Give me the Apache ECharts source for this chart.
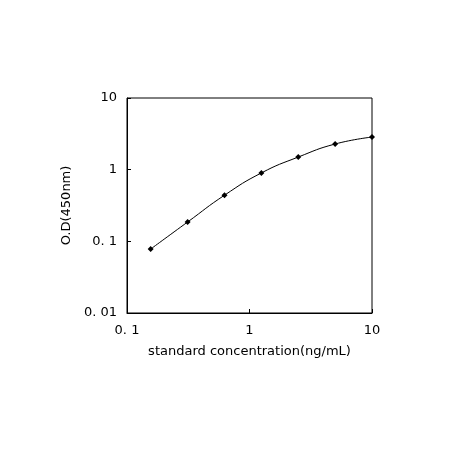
<!DOCTYPE html>
<html><head><meta charset="utf-8">
<script src="https://cdn.jsdelivr.net/npm/echarts@6/dist/echarts.min.js"></script>
<style>html,body{margin:0;padding:0;background:#fff}#c{width:450px;height:450px}</style>
</head><body><div id="c"></div>
<script>
const concentrations = [0.156, 0.3125, 0.625, 1.25, 2.5, 5, 10];
const odValues = [0.078, 0.186, 0.44, 0.90, 1.5, 2.28, 2.85];
const xTickLabels = {0.1:'0. 1', 1:'1', 10:'10'};
const yTickLabels = {0.01:'0. 01', 0.1:'0. 1', 1:'1', 10:'10'};
const xName = 'standard concentration(ng/mL)';
const yName = 'O.D(450nm)';

const chart = echarts.init(document.getElementById('c'));
const font = {fontFamily:'DejaVu Sans', fontSize:13, color:'#000'};
chart.setOption({
  animation:false,
  grid:{left:127, top:98, width:245, height:215, show:true, borderColor:'#000', borderWidth:1},
  xAxis:{type:'log', min:0.1, max:10, logBase:10, name:xName, nameLocation:'middle', nameGap:32,
    nameTextStyle:font, axisLine:{lineStyle:{color:'#000'}}, axisTick:{inside:true,length:4,lineStyle:{color:'#000'}},
    splitLine:{show:false}, minorTick:{show:false},
    axisLabel:Object.assign({formatter:v=>xTickLabels[+v.toPrecision(3)]??'', margin:11}, font)},
  yAxis:{type:'log', min:0.01, max:10, logBase:10, name:yName, nameLocation:'middle', nameGap:50,
    nameTextStyle:font, axisLine:{lineStyle:{color:'#000'}}, axisTick:{inside:true,length:4,lineStyle:{color:'#000'}},
    splitLine:{show:false},
    axisLabel:Object.assign({formatter:v=>yTickLabels[+v.toPrecision(3)]??'', margin:10}, font)},
  series:[{type:'line', smooth:true, clip:false, data:concentrations.map((x,i)=>[x,odValues[i]]),
    symbol:'diamond', symbolSize:6, itemStyle:{color:'#000'}, lineStyle:{color:'#000', width:1}}]
});
</script></body></html>
